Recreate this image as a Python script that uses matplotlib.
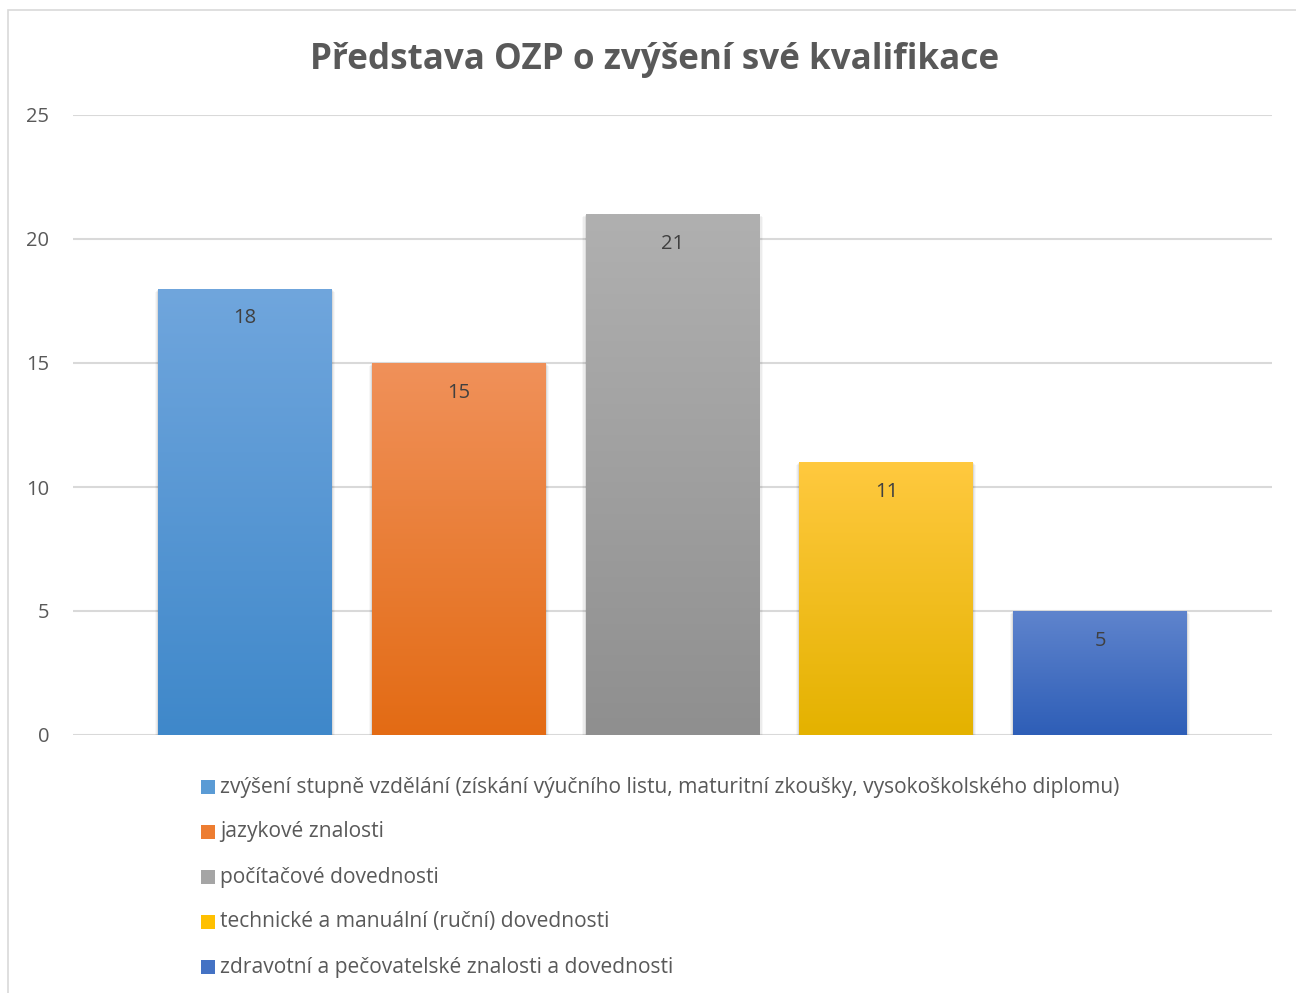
import numpy as np
import matplotlib
matplotlib.use("Agg")
import matplotlib.pyplot as plt
from matplotlib.patches import Rectangle
from matplotlib.colors import LinearSegmentedColormap

plt.rcParams['font.family'] = ['Open Sans', 'DejaVu Sans']

title = "Představa OZP o zvýšení své kvalifikace"
labels = [
    "zvýšení stupně vzdělání (získání výučního listu, maturitní zkoušky, vysokoškolského diplomu)",
    "jazykové znalosti",
    "počítačové dovednosti",
    "technické a manuální (ruční) dovednosti",
    "zdravotní a pečovatelské znalosti a dovednosti",
]
values = [18, 15, 21, 11, 5]
# (top colour, bottom colour) of each bar's gradient
tops = ["#70a6dd", "#f0915a", "#b0b0b0", "#ffc93f", "#5f84cd"]
bottoms = ["#3f88ca", "#e36b14", "#8f8f8f", "#e4b200", "#2e5eb7"]
mids = ["#5a9bd5", "#ed7d31", "#a5a5a5", "#ffc000", "#4472c4"]

text_col = "#595959"
grid_col = "#d9d9d9"

fig = plt.figure(figsize=(12.96, 9.93), dpi=100)
ax = fig.add_axes([73 / 1296, 1 - 735 / 993, 1199 / 1296, 620 / 993])

x = np.arange(len(values))
w = 174 / 214
bars = ax.bar(x, values, width=w, color=tops, zorder=3)

grad = np.linspace(0, 1, 256).reshape(-1, 1)
for b, top, bot, xi, v in zip(bars, tops, bottoms, x, values):
    # soft drop shadow
    for k, a in enumerate([0.07, 0.045, 0.03]):
        sh = Rectangle((xi - w / 2 - 0.005 * (k + 1), -0.09 * (k + 1)),
                       w + 0.01 * (k + 1), v + 0.05 * (k + 1),
                       facecolor="black", alpha=a, edgecolor="none", zorder=2)
        ax.add_patch(sh)
    cmap = LinearSegmentedColormap.from_list("g", [bot, top])
    im = ax.imshow(grad, cmap=cmap, aspect="auto", origin="lower",
                   extent=[xi - w / 2, xi + w / 2, 0, v], zorder=4)
    im.set_clip_path(b)
    ax.text(xi, v - 1.2, str(v), ha="center", va="center",
            fontsize=14.5, color="#404040", zorder=5)

ax.set_xlim(-0.804, 4.804)
ax.set_ylim(0, 25)
ax.set_yticks(range(0, 26, 5))
ax.set_xticks([])
ax.tick_params(axis="y", length=0, pad=17, labelsize=14.5, labelcolor=text_col)
for s in ax.spines.values():
    s.set_visible(False)
ax.grid(axis="y", color=grid_col, linewidth=1.5, zorder=0)
ax.set_axisbelow(True)

fig.text(655 / 1296, 1 - 60 / 993, title, ha="center", va="center",
         fontsize=25.2, fontweight="bold", color=text_col)

# legend rows
for i, (lab, mid) in enumerate(zip(labels, mids)):
    yc = 1 - (787 + 45 * i) / 993
    fig.patches.append(Rectangle((201 / 1296, yc - 7 / 993), 14 / 1296, 14 / 993,
                                 transform=fig.transFigure, facecolor=mid,
                                 edgecolor="none"))
    fig.text(220 / 1296, yc, lab, ha="left", va="center", fontsize=15.15,
             color=text_col)

# chart frame
fig.patches.append(Rectangle((8 / 1296, -0.05), 1.2, 1 - 10 / 993 + 0.05,
                             transform=fig.transFigure, facecolor="none",
                             edgecolor=grid_col, linewidth=1.2))

fig.savefig("out.png", dpi=100)
